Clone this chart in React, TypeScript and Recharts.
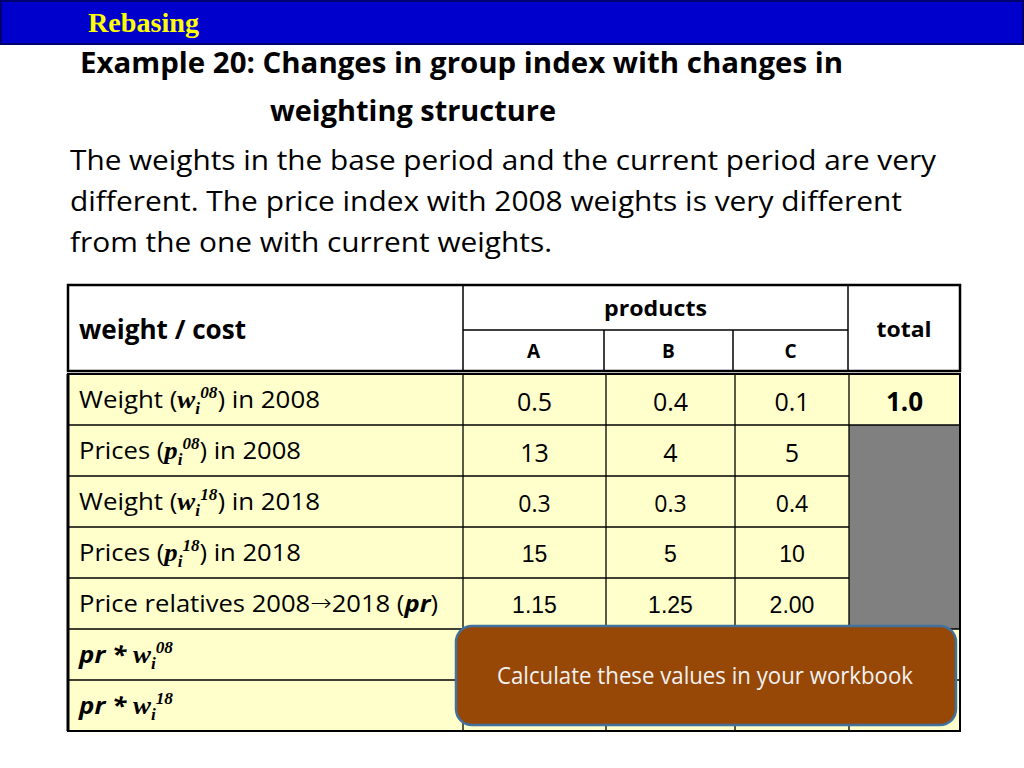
import React from 'react'
import { Surface, Layer, Rectangle } from 'recharts'

// table content
const productNames = ['A', 'B', 'C']
const weights2008 = ['0.5', '0.4', '0.1']
const prices2008 = ['13', '4', '5']
const weights2018 = ['0.3', '0.3', '0.4']
const prices2018 = ['15', '5', '10']
const priceRelatives = ['1.15', '1.25', '2.00']
const totalWeight2008 = '1.0'

const headerLabel = 'weight / cost'
const groupLabel = 'products'
const totalLabel = 'total'

type Seg = { t: string; k?: 'var' | 'sub' | 'sup' | 'pr' | 'bi' | 'arrow' }

const rowLabels: Seg[][] = [
  [{ t: 'Weight (' }, { t: 'w', k: 'var' }, { t: 'i', k: 'sub' }, { t: '08', k: 'sup' }, { t: ') in 2008' }],
  [{ t: 'Prices (' }, { t: 'p', k: 'var' }, { t: 'i', k: 'sub' }, { t: '08', k: 'sup' }, { t: ') in 2008' }],
  [{ t: 'Weight (' }, { t: 'w', k: 'var' }, { t: 'i', k: 'sub' }, { t: '18', k: 'sup' }, { t: ') in 2018' }],
  [{ t: 'Prices (' }, { t: 'p', k: 'var' }, { t: 'i', k: 'sub' }, { t: '18', k: 'sup' }, { t: ') in 2018' }],
  [{ t: 'Price relatives 2008' }, { t: '\u2192', k: 'arrow' }, { t: '2018 (' }, { t: 'pr', k: 'pr' }, { t: ')' }],
  [{ t: 'pr * ', k: 'bi' }, { t: 'w', k: 'var' }, { t: 'i', k: 'sub' }, { t: '08', k: 'sup' }],
  [{ t: 'pr * ', k: 'bi' }, { t: 'w', k: 'var' }, { t: 'i', k: 'sub' }, { t: '18', k: 'sup' }],
]

const rowValues: string[][] = [weights2008, prices2008, weights2018, prices2018, priceRelatives, [], []]

const slideTitle = ['Example 20: Changes in group index with changes in', 'weighting structure']
const slideBody = [
  'The weights in the base period and the current period are very',
  'different. The price index with 2008 weights is very different',
  'from the one with current weights.',
]
const calloutText = 'Calculate these values in your workbook'

// layout
const SANS = '"Open Sans", "Noto Sans", sans-serif'
const SERIF = '"Liberation Serif", "DejaVu Serif", serif'
const ARIAL = '"Liberation Sans", Arial, sans-serif'
const YELLOW = '#FFFFCC'

const headCols = [68, 463, 604, 733, 848, 960]
const bodyCols = [68, 463, 606, 735, 849, 960]
const headTop = 285
const headMid = 330
const headBottom = 371
const bodyTop = 374
const rowH = 51
const labelWidths = [241, 222, 241, 222, 359, 94, 94]
const bodyWidths = [866, 832, 482]
const valueStyle = [
  { font: SANS, size: 25, dy: 37 },
  { font: SANS, size: 25, dy: 37 },
  { font: SANS, size: 23, dy: 36 },
  { font: ARIAL, size: 23, dy: 35 },
  { font: ARIAL, size: 23, dy: 35 },
  { font: SANS, size: 22, dy: 35 },
  { font: SANS, size: 22, dy: 35 },
]

function Label({ segs, x, y, width }: { segs: Seg[]; x: number; y: number; width: number }) {
  let off = 0
  return (
    <text x={x} y={y} fontFamily={SANS} fontSize={24} fill="#000" textLength={width} lengthAdjust="spacingAndGlyphs">
      {segs.map((s, i) => {
        let target = 0
        let props: any = {}
        if (s.k === 'sub') {
          target = 6
          props = { fontFamily: SERIF, fontStyle: 'italic', fontWeight: 'bold', fontSize: 16 }
        } else if (s.k === 'sup') {
          target = -10
          props = { fontFamily: SERIF, fontStyle: 'italic', fontWeight: 'bold', fontSize: 16 }
        } else if (s.k === 'var') {
          props = { fontFamily: SERIF, fontStyle: 'italic', fontWeight: 'bold', fontSize: 25 }
        } else if (s.k === 'arrow') {
          target = -1
          props = { fontFamily: '"DejaVu Sans", sans-serif', fontSize: 24, fontWeight: 200 }
        } else if (s.k === 'pr' || s.k === 'bi') {
          props = { fontStyle: 'italic', fontWeight: 'bold' }
        }
        const dy = target - off
        off = target
        return (
          <tspan key={i} dy={dy} {...props}>
            {s.t}
          </tspan>
        )
      })}
    </text>
  )
}

export default function App() {
  const bodyBottom = bodyTop + rowH * rowLabels.length
  return (
    <div style={{ position: 'absolute', left: 0, top: 0, width: 1024, height: 768, background: '#fff' }}>
      <Surface width={1024} height={768}>
        {/* title bar */}
        <Rectangle x={1} y={1} width={1022} height={43} fill="#0000CC" stroke="#000070" strokeWidth={2} />
        <text x={88} y={32} fontFamily={SERIF} fontWeight="bold" fontSize={27} fill="#FFFF00" textLength={111} lengthAdjust="spacingAndGlyphs">
          Rebasing
        </text>
        <text x={80} y={73} fontFamily={SANS} fontWeight="bold" fontSize={29} textLength={763} lengthAdjust="spacingAndGlyphs">
          {slideTitle[0]}
        </text>
        <text x={270} y={121} fontFamily={SANS} fontWeight="bold" fontSize={29} textLength={286} lengthAdjust="spacingAndGlyphs">
          {slideTitle[1]}
        </text>
        {slideBody.map((line, i) => (
          <text key={i} x={70} y={170 + i * 41} fontFamily={SANS} fontSize={28} textLength={bodyWidths[i]} lengthAdjust="spacingAndGlyphs">
            {line}
          </text>
        ))}

        {/* header table */}
        <Layer>
          <rect x={headCols[0]} y={headTop} width={headCols[5] - headCols[0]} height={headBottom - headTop} fill="#fff" stroke="#000" strokeWidth={2.5} />
          <line x1={headCols[1]} x2={headCols[1]} y1={headTop} y2={headBottom} stroke="#000" strokeWidth={1.5} />
          <line x1={headCols[4]} x2={headCols[4]} y1={headTop} y2={headBottom} stroke="#000" strokeWidth={1.5} />
          <line x1={headCols[1]} x2={headCols[4]} y1={headMid} y2={headMid} stroke="#000" strokeWidth={1.5} />
          {[2, 3].map(c => (
            <line key={c} x1={headCols[c]} x2={headCols[c]} y1={headMid} y2={headBottom} stroke="#000" strokeWidth={1.5} />
          ))}
          <text x={79} y={339} fontFamily={SANS} fontWeight="bold" fontSize={26} textLength={167} lengthAdjust="spacingAndGlyphs">
            {headerLabel}
          </text>
          <text x={(headCols[1] + headCols[4]) / 2} y={316} textAnchor="middle" fontFamily={SANS} fontWeight="bold" fontSize={22} textLength={103} lengthAdjust="spacingAndGlyphs">
            {groupLabel}
          </text>
          <text x={(headCols[4] + headCols[5]) / 2} y={337} textAnchor="middle" fontFamily={SANS} fontWeight="bold" fontSize={22} textLength={55} lengthAdjust="spacingAndGlyphs">
            {totalLabel}
          </text>
          {productNames.map((p, i) => (
            <text key={p} x={(headCols[i + 1] + headCols[i + 2]) / 2} y={358} textAnchor="middle" fontFamily={SANS} fontWeight="bold" fontSize={19}>
              {p}
            </text>
          ))}
        </Layer>

        {/* body table */}
        <Layer>
          <rect x={bodyCols[0]} y={bodyTop} width={bodyCols[5] - bodyCols[0]} height={bodyBottom - bodyTop} fill={YELLOW} />
          <rect x={bodyCols[4]} y={bodyTop + rowH} width={bodyCols[5] - bodyCols[4]} height={rowH * 4} fill="#808080" />
          {rowLabels.map((_, r) =>
            r === 0 ? null : (
              <line
                key={r}
                x1={bodyCols[0]}
                x2={r >= 2 && r <= 4 ? bodyCols[4] : bodyCols[5]}
                y1={bodyTop + r * rowH}
                y2={bodyTop + r * rowH}
                stroke="#000"
                strokeWidth={1.3}
              />
            )
          )}
          {[1, 2, 3, 4].map(c => (
            <line key={c} x1={bodyCols[c]} x2={bodyCols[c]} y1={bodyTop} y2={bodyBottom} stroke="#000" strokeWidth={1.3} />
          ))}
          <rect x={bodyCols[0]} y={bodyTop} width={bodyCols[5] - bodyCols[0]} height={bodyBottom - bodyTop} fill="none" stroke="#000" strokeWidth={2} />
          <line x1={bodyCols[0]} x2={bodyCols[0]} y1={bodyTop} y2={bodyBottom} stroke="#000" strokeWidth={3} />
          {rowLabels.map((segs, r) => (
            <Label key={r} segs={segs} x={79} y={bodyTop + r * rowH + 34} width={labelWidths[r]} />
          ))}
          {rowValues.map((vals, r) =>
            vals.map((v, c) => (
              <text
                key={`${r}-${c}`}
                x={(bodyCols[c + 1] + bodyCols[c + 2]) / 2}
                y={bodyTop + r * rowH + valueStyle[r].dy}
                textAnchor="middle"
                fontFamily={valueStyle[r].font}
                fontSize={valueStyle[r].size}
              >
                {v}
              </text>
            ))
          )}
          <text x={(bodyCols[4] + bodyCols[5]) / 2} y={bodyTop + 37} textAnchor="middle" fontFamily={SANS} fontWeight="bold" fontSize={26}>
            {totalWeight2008}
          </text>
        </Layer>

        {/* callout */}
        <Rectangle x={456} y={626} width={500} height={99} radius={16} fill="#974706" stroke="#41719C" strokeWidth={2.5} />
        <text x={497} y={684} fontFamily={SANS} fontSize={23} fill="#F2F2F2" textLength={416} lengthAdjust="spacingAndGlyphs">
          {calloutText}
        </text>
      </Surface>
    </div>
  )
}
